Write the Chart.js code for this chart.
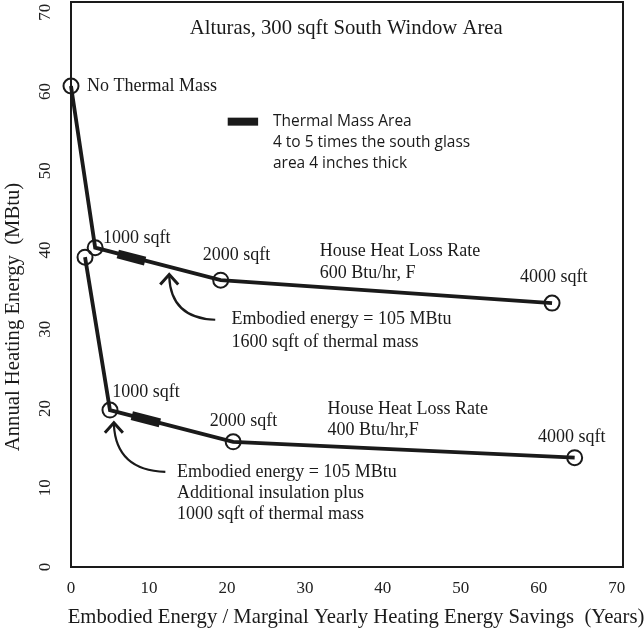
<!DOCTYPE html>
<html>
<head>
<meta charset="utf-8">
<script src="https://cdn.jsdelivr.net/npm/chart.js@4.4.1/dist/chart.umd.min.js"></script>
<style>
  html, body { margin: 0; padding: 0; background: #fff; }
  #wrap { width: 644px; height: 632px; }
</style>
</head>
<body>
<div id="wrap"><canvas id="chart" width="644" height="632"></canvas></div>
<script>
// ---------------------------------------------------------------
// values
// ---------------------------------------------------------------
const xTicks = [0, 10, 20, 30, 40, 50, 60, 70];
const yTicks = [0, 10, 20, 30, 40, 50, 60, 70];

// house heat loss 600 Btu/hr,F : no thermal mass, 1000, 2000, 4000 sqft
const upperX = [0, 3.1, 19.2, 61.7];
const upperY = [60.7, 40.3, 36.2, 33.3];

// house heat loss 400 Btu/hr,F : start, 1000, 2000, 4000 sqft
const lowerX = [1.8, 5.0, 20.8, 64.6];
const lowerY = [39.1, 19.8, 15.8, 13.8];

// thick "thermal mass area" marks on each curve
const upperMassX = [6.0, 9.5];
const upperMassY = [39.5, 38.6];
const lowerMassX = [7.8, 11.4];
const lowerMassY = [19.1, 18.2];

const INK = '#1a1a1a';
const SERIF = '"Liberation Serif", "DejaVu Serif", serif';
const SANS = '"Open Sans", "Liberation Sans", sans-serif';

// labels written on the plot (data coordinates)
const notes = [
    { t: 'Alturas, 300 sqft South Window Area', x: 35.3, y: 67.9, align: 'center', size: 20.7 },
    { t: 'No Thermal Mass', x: 2.05, y: 60.7 },
    { t: '1000 sqft', x: 4.1, y: 41.5 },
    { t: '2000 sqft', x: 16.9, y: 39.4 },
    { t: 'House Heat Loss Rate', x: 31.9, y: 39.8 },
    { t: '600 Btu/hr, F', x: 31.9, y: 37.1 },
    { t: '4000 sqft', x: 57.6, y: 36.5 },
    { t: 'Embodied energy = 105 MBtu', x: 20.6, y: 31.2 },
    { t: '1600 sqft of thermal mass', x: 20.6, y: 28.3 },
    { t: '1000 sqft', x: 5.3, y: 22.0 },
    { t: '2000 sqft', x: 17.8, y: 18.4 },
    { t: 'House Heat Loss Rate', x: 32.9, y: 19.9 },
    { t: '400 Btu/hr,F', x: 32.9, y: 17.3 },
    { t: '4000 sqft', x: 59.9, y: 16.4 },
    { t: 'Embodied energy = 105 MBtu', x: 13.6, y: 12.0 },
    { t: 'Additional insulation plus', x: 13.6, y: 9.3 },
    { t: '1000 sqft of thermal mass', x: 13.6, y: 6.7 }
];

const legendLines = ['Thermal Mass Area', '4 to 5 times the south glass', 'area 4 inches thick'];

// curved arrows: apex, control point, tail end
const arrows = [
    { tip: [12.6, 36.9], ctrl: [12.8, 31.4], end: [18.5, 31.2] },
    { tip: [5.5, 18.2], ctrl: [5.8, 12.2], end: [12.1, 12.0] }
];

const toPoints = (xs, ys) => xs.map((v, i) => ({ x: v, y: ys[i] }));

// ---------------------------------------------------------------
// plot decorations: frame, notes, legend, arrows, axis titles
// ---------------------------------------------------------------
const decor = {
    id: 'decor',
    afterDraw(chart) {
        const { ctx, chartArea: a, scales: { x, y } } = chart;
        ctx.save();
        ctx.strokeStyle = INK;
        ctx.lineWidth = 2;
        ctx.strokeRect(a.left, a.top, a.right - a.left, a.bottom - a.top);

        ctx.fillStyle = INK;
        ctx.textBaseline = 'middle';
        notes.forEach(n => {
            ctx.font = `${n.size || 18}px ${SERIF}`;
            ctx.textAlign = n.align || 'left';
            ctx.fillText(n.t, x.getPixelForValue(n.x), y.getPixelForValue(n.y));
        });

        // legend
        const lx0 = x.getPixelForValue(20.1), lx1 = x.getPixelForValue(24.0);
        const ly = y.getPixelForValue(56.2);
        ctx.fillRect(lx0, ly - 4, lx1 - lx0, 8);
        ctx.font = `15.5px ${SANS}`;
        ctx.textAlign = 'left';
        legendLines.forEach((s, i) => {
            ctx.fillText(s, x.getPixelForValue(25.9), ly + i * 21);
        });

        // arrows
        ctx.lineWidth = 2.2;
        ctx.lineJoin = 'miter';
        arrows.forEach(ar => {
            const tx = x.getPixelForValue(ar.tip[0]), ty = y.getPixelForValue(ar.tip[1]);
            ctx.beginPath();
            ctx.moveTo(tx, ty + 2);
            ctx.quadraticCurveTo(x.getPixelForValue(ar.ctrl[0]), y.getPixelForValue(ar.ctrl[1]),
                x.getPixelForValue(ar.end[0]), y.getPixelForValue(ar.end[1]));
            ctx.stroke();
            ctx.lineWidth = 3;
            ctx.beginPath();
            ctx.moveTo(tx - 9, ty + 10);
            ctx.lineTo(tx, ty);
            ctx.lineTo(tx + 9, ty + 10);
            ctx.stroke();
            ctx.lineWidth = 2.2;
        });

        // axis titles
        ctx.font = `20.7px ${SERIF}`;
        ctx.textAlign = 'center';
        ctx.fillText('Embodied Energy / Marginal Yearly Heating Energy Savings  (Years)', 356, 618);
        ctx.translate(14, 317);
        ctx.rotate(-Math.PI / 2);
        ctx.fillText('Annual Heating Energy  (MBtu)', 0, 0);
        ctx.restore();
    }
};

const lineStyle = {
    showLine: true,
    borderColor: INK,
    borderWidth: 3.8,
    pointRadius: 7.5,
    pointBorderWidth: 2,
    pointBorderColor: INK,
    pointBackgroundColor: 'rgba(0,0,0,0)',
    clip: false
};

const massStyle = {
    showLine: true,
    borderColor: INK,
    borderWidth: 9,
    pointRadius: 0,
    clip: false
};

new Chart(document.getElementById('chart'), {
    type: 'scatter',
    data: {
        datasets: [
            Object.assign({ label: 'Thermal mass (600)', data: toPoints(upperMassX, upperMassY) }, massStyle),
            Object.assign({ label: 'Thermal mass (400)', data: toPoints(lowerMassX, lowerMassY) }, massStyle),
            Object.assign({ label: '600 Btu/hr,F', data: toPoints(upperX, upperY) }, lineStyle),
            Object.assign({ label: '400 Btu/hr,F', data: toPoints(lowerX, lowerY) }, lineStyle)
        ]
    },
    options: {
        responsive: false,
        animation: false,
        devicePixelRatio: 1,
        layout: { autoPadding: false, padding: { top: 2, right: 21, left: 0, bottom: 0 } },
        plugins: { legend: { display: false }, tooltip: { enabled: false } },
        scales: {
            x: {
                type: 'linear', min: 0, max: 70.8,
                grid: { display: false, drawTicks: false },
                border: { display: false },
                ticks: { font: { family: SERIF, size: 17 }, color: '#222', padding: 11, maxRotation: 0 },
                afterBuildTicks: s => { s.ticks = xTicks.map(v => ({ value: v })); },
                afterFit: s => { s.height = 65; s.paddingLeft = 0; s.paddingRight = 0; }
            },
            y: {
                type: 'linear', min: 0, max: 71.3,
                grid: { display: false, drawTicks: false },
                border: { display: false },
                ticks: { font: { family: SERIF, size: 17 }, color: '#222', padding: 17, crossAlign: 'center', minRotation: 90, maxRotation: 90 },
                afterBuildTicks: s => { s.ticks = yTicks.map(v => ({ value: v })); },
                afterFit: s => { s.width = 71; s.paddingTop = 0; s.paddingBottom = 0; }
            }
        }
    },
    plugins: [decor]
});
</script>
</body>
</html>
